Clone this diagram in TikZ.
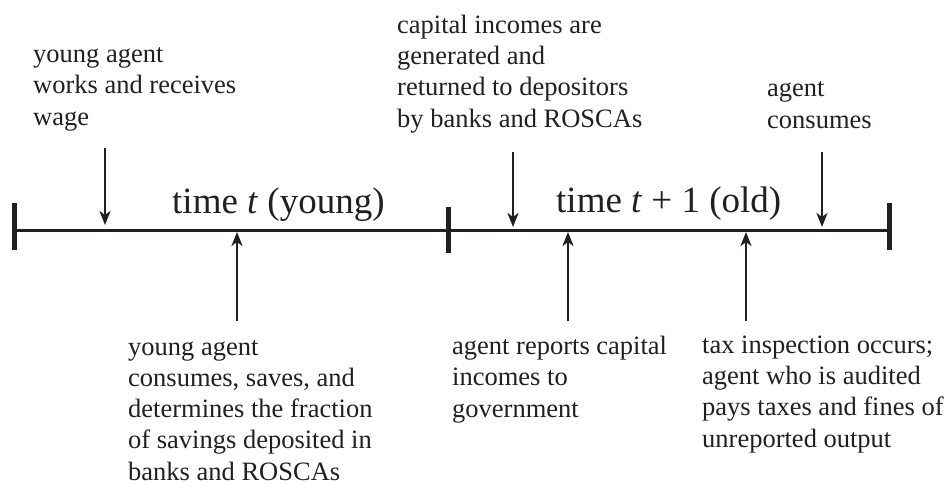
\documentclass[tikz,border=0pt]{standalone}
\usepackage{fontspec}
\setmainfont{Liberation Serif}
\usetikzlibrary{arrows.meta}
\definecolor{ink}{HTML}{231F20}
\begin{document}
\begin{tikzpicture}[x=1pt,y=-1pt,
  note/.style={anchor=base west,inner sep=0pt,align=left,text=ink,
    font=\fontsize{26.5}{31.2}\selectfont},
  period/.style={anchor=base west,inner sep=0pt,text=ink,
    font=\fontsize{37}{42}\selectfont},
  axis/.style={draw=ink,line width=3pt},
  tickmark/.style={draw=ink,line width=5pt},
  event/.style={draw=ink,line width=2.8pt,
    -{Stealth[length=14pt,width=11pt,inset=4pt]}}]
\useasboundingbox (0,0) rectangle (946,483);
% timeline
\coordinate (L) at (14,230);
\coordinate (M) at (448,230);
\coordinate (R) at (889,230);
\draw[axis] (L) -- (R);
\draw[tickmark] (14,203) -- (14,250);
\draw[tickmark] (448,207) -- (448,253);
\draw[tickmark] (889,203) -- (889,250);
% period labels
\node[period] (young) at (172,213) {time \textit{t} (young)};
\node[period] (old) at (556,212) {time \textit{t} + 1 (old)};
% top notes (anchored at the baseline of the last line)
\node[note] (t1) at (33,125) {young agent\\works and receives\\wage};
\node[note] (t2) at (397,127) {capital incomes are\\generated and\\returned to depositors\\by banks and ROSCAs};
\node[note] (t3) at (767,128) {agent\\consumes};
% bottom notes
\node[note] (b1) at (128,480) {young agent\\consumes, saves, and\\determines the fraction\\of savings deposited in\\banks and ROSCAs};
\node[note] (b2) at (452,417) {agent reports capital\\incomes to\\government};
\node[note] (b3) at (702,447) {tax inspection occurs;\\agent who is audited\\pays taxes and fines of\\unreported output};
% arrow end points
\coordinate (d1s) at (105,148); \coordinate (d1e) at (105,225);
\coordinate (d2s) at (513,152); \coordinate (d2e) at (513,227);
\coordinate (d3s) at (822,152); \coordinate (d3e) at (822,227);
\coordinate (u1s) at (237,321); \coordinate (u1e) at (237,232);
\coordinate (u2s) at (568,321); \coordinate (u2e) at (568,232);
\coordinate (u3s) at (746,321); \coordinate (u3e) at (746,232);
\draw[event] (d1s) -- (d1e);
\draw[event] (d2s) -- (d2e);
\draw[event] (d3s) -- (d3e);
\draw[event] (u1s) -- (u1e);
\draw[event] (u2s) -- (u2e);
\draw[event] (u3s) -- (u3e);
\end{tikzpicture}
\end{document}
